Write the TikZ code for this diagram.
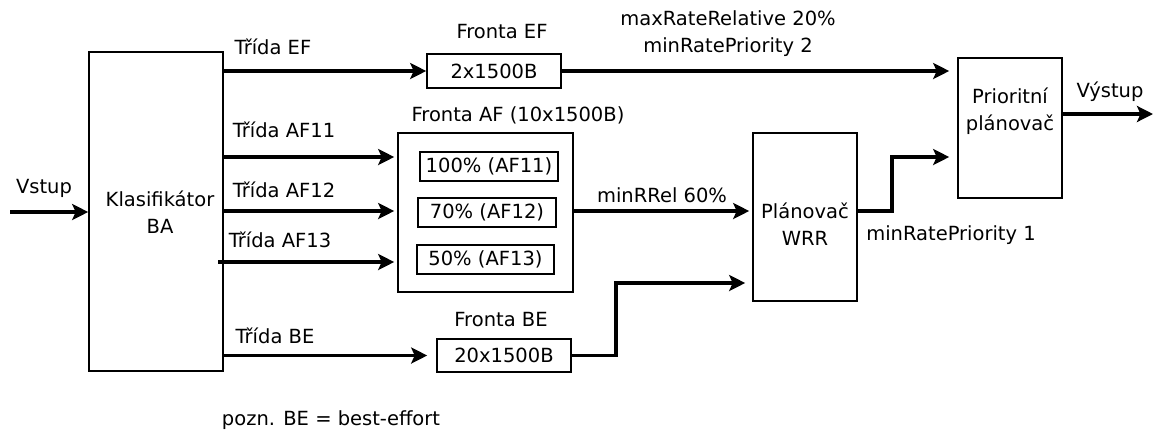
\documentclass[tikz,border=0pt]{standalone}
\usepackage{fontspec}
\setmainfont{DejaVu Sans}
\usetikzlibrary{arrows.meta,calc}
\begin{document}
\begin{tikzpicture}[x=1pt,y=-1pt,
  every node/.style={font=\fontsize{19.5}{27}\selectfont, inner sep=0pt},
  box/.style={draw, line width=1.6pt, align=center},
  flow/.style={line width=3.2pt, -{Stealth[length=16pt,width=16pt,inset=3.5pt]}},
  lbl/.style={align=center}]
\useasboundingbox (0,0) rectangle (1153,432);
% boxes
\node[box, minimum width=134pt, minimum height=319pt] (cls) at (156,211.5) {};
\node[lbl] (clst) at (160,212) {Klasifikátor\\BA};
\node[box, minimum width=134pt, minimum height=34pt] (efq) at (494,71) {2x1500B};
\node[box, minimum width=175pt, minimum height=159pt] (afq) at (485.5,212.5) {};
\node[box, minimum width=138pt, minimum height=29pt] (a11) at (489,166.5) {100\% (AF11)};
\node[box, minimum width=138pt, minimum height=29pt] (a12) at (487,212.5) {70\% (AF12)};
\node[box, minimum width=137pt, minimum height=29pt] (a13) at (485.5,259.5) {50\% (AF13)};
\node[box, minimum width=134pt, minimum height=33pt] (beq) at (504,355.5) {20x1500B};
\node[box, minimum width=104pt, minimum height=168pt] (wrr) at (805,217) {};
\node[lbl] (wrrt) at (805,224) {Plánovač\\WRR};
\node[box, minimum width=104pt, minimum height=140pt] (pri) at (1010,128) {};
\node[lbl] (prit) at (1010,111) {Prioritní\\plánovač};
% helper coordinates
\coordinate (vin) at (10,212);
\coordinate (vout) at (1153,114);
\coordinate (bebend) at (616,355.5);
\coordinate (bebend2) at (616,283);
\coordinate (wbend) at (892,211);
\coordinate (wbend2) at (892,157);
\coordinate (af13s) at (218,262);
% labels
\node (lvstup) at (44,188) {Vstup};
\node (lef) at (273,47) {Třída EF};
\node (lfef) at (502,32) {Fronta EF};
\node[lbl] (lmax) at (728,34) {maxRateRelative 20\%\\minRatePriority 2};
\node (laf11) at (284,130) {Třída AF11};
\node (laf12) at (284,190) {Třída AF12};
\node (laf13) at (280,240) {Třída AF13};
\node (lfaf) at (518,115) {Fronta AF (10x1500B)};
\node (lrrel) at (662,195) {minRRel 60\%};
\node (lbe) at (275,336) {Třída BE};
\node (lfbe) at (501,320) {Fronta BE};
\node (lmrp) at (951,235) {minRatePriority 1};
\node (lvys) at (1110,92) {Výstup};
\node (lpozn) at (331,420) {pozn. BE = best-effort};
% connectors
\draw[flow] (vin) -- (cls.west |- vin);
\draw[flow] (cls.east |- efq) -- (efq.west);
\draw[flow, shorten >=8pt] (efq.east) -- (pri.west |- efq);
\draw[flow, shorten >=3pt] (cls.east |- 0,157) -- (afq.west |- 0,157);
\draw[flow, shorten >=3pt] (cls.east |- 0,211) -- (afq.west |- 0,211);
\draw[flow, shorten >=3pt] (af13s) -- (afq.west |- af13s);
\draw[flow, shorten >=3pt] (afq.east |- 0,211) -- (wrr.west |- 0,211);
\draw[flow, shorten >=9pt] (cls.east |- beq) -- (beq.west);
\draw[flow, shorten >=7pt] (beq.east) -- (bebend) -- (bebend2) -- (wrr.west |- bebend2);
\draw[flow, shorten >=8pt] (wrr.east |- wbend) -- (wbend) -- (wbend2) -- (pri.west |- wbend2);
\draw[flow] (pri.east |- vout) -- (vout);
\end{tikzpicture}
\end{document}
